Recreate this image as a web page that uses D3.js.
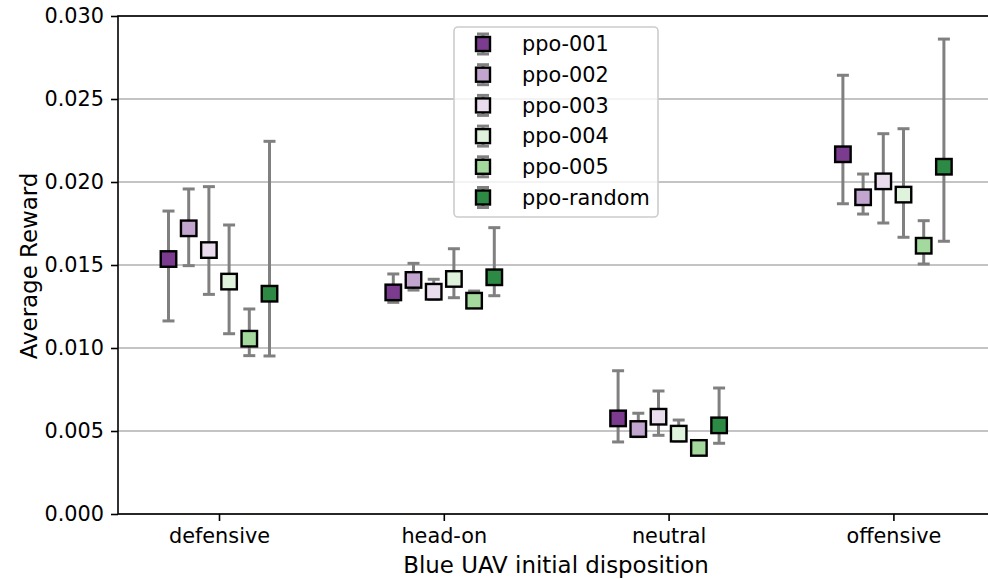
<!DOCTYPE html>
<html>
<head>
<meta charset="utf-8">
<script src="https://cdn.jsdelivr.net/npm/d3@7"></script>
<style>
  html, body { margin: 0; padding: 0; background: #fff; }
  svg { display: block; }
  text { font-family: "DejaVu Sans", sans-serif; fill: #000; }
</style>
</head>
<body>
<svg id="chart" width="988" height="579"></svg>
<script>
// Categories (x axis) and series (legend)
const dispositions = ["defensive", "head-on", "neutral", "offensive"];
const policies = ["ppo-001", "ppo-002", "ppo-003", "ppo-004", "ppo-005", "ppo-random"];
const policyColors = ["#7b3b8f", "#c2a5cf", "#e9dcec", "#dff2dc", "#a3d99d", "#2d8a44"];

// Mean reward per policy, one value per disposition
const meanReward = {
  "ppo-001":    [0.01536, 0.01335, 0.00576, 0.02167],
  "ppo-002":    [0.01721, 0.01410, 0.00512, 0.01908],
  "ppo-003":    [0.01590, 0.01339, 0.00586, 0.02004],
  "ppo-004":    [0.01400, 0.01416, 0.00484, 0.01924],
  "ppo-005":    [0.01056, 0.01285, 0.00398, 0.01616],
  "ppo-random": [0.01327, 0.01426, 0.00534, 0.02092]
};
// Upper end of each error bar
const upperReward = {
  "ppo-001":    [0.01825, 0.01446, 0.00863, 0.02643],
  "ppo-002":    [0.01958, 0.01510, 0.00607, 0.02048],
  "ppo-003":    [0.01972, 0.01414, 0.00741, 0.02291],
  "ppo-004":    [0.01741, 0.01598, 0.00566, 0.02321],
  "ppo-005":    [0.01235, 0.01343, 0.00420, 0.01767],
  "ppo-random": [0.02245, 0.01725, 0.00759, 0.02861]
};
// Lower end of each error bar
const lowerReward = {
  "ppo-001":    [0.01163, 0.01275, 0.00434, 0.01869],
  "ppo-002":    [0.01496, 0.01349, 0.00466, 0.01807],
  "ppo-003":    [0.01323, 0.01293, 0.00474, 0.01753],
  "ppo-004":    [0.01086, 0.01303, 0.00440, 0.01667],
  "ppo-005":    [0.00954, 0.01270, 0.00380, 0.01506],
  "ppo-random": [0.00952, 0.01315, 0.00426, 0.01643]
};
const yTicks = [0.000, 0.005, 0.010, 0.015, 0.020, 0.025, 0.030];

const svg = d3.select("#chart");
const plot = { left: 118, right: 994, top: 16, bottom: 514 };
const fontSize = 20.8;
const titleSize = 22.9;

const x = d3.scalePoint().domain(dispositions).range([219, 893.4]);
const offset = d3.scalePoint().domain(policies).range([-50.5, 50.5]);
const y = d3.scaleLinear().domain([0, 0.030]).range([plot.bottom, plot.top]);
const color = d3.scaleOrdinal().domain(policies).range(policyColors);

// Horizontal grid
svg.append("g")
  .selectAll("line")
  .data(yTicks)
  .join("line")
  .attr("x1", plot.left).attr("x2", plot.right)
  .attr("y1", d => y(d)).attr("y2", d => y(d))
  .attr("stroke", "#b0b0b0").attr("stroke-width", 1.6);

// Y axis
const yAxis = svg.append("g")
  .attr("transform", `translate(${plot.left},0)`)
  .call(d3.axisLeft(y).tickValues(yTicks).tickFormat(d3.format(".3f")).tickSize(7).tickPadding(7));
yAxis.select(".domain").remove();
yAxis.selectAll(".tick line").attr("stroke", "#000").attr("stroke-width", 1.6);
yAxis.selectAll(".tick text").attr("font-size", fontSize).attr("font-family", "DejaVu Sans");

// X axis
const xAxis = svg.append("g")
  .attr("transform", `translate(0,${plot.bottom})`)
  .call(d3.axisBottom(x).tickSize(7).tickPadding(7));
xAxis.select(".domain").remove();
xAxis.selectAll(".tick line").attr("stroke", "#000").attr("stroke-width", 1.6);
xAxis.selectAll(".tick text").attr("font-size", fontSize).attr("font-family", "DejaVu Sans");

// Spines
const spines = svg.append("g").attr("stroke", "#000").attr("stroke-width", 1.6).attr("fill", "none");
spines.append("rect")
  .attr("x", plot.left).attr("y", plot.top)
  .attr("width", plot.right - plot.left).attr("height", plot.bottom - plot.top);

// Axis titles
svg.append("text")
  .attr("x", 556).attr("y", 573)
  .attr("text-anchor", "middle").attr("font-size", titleSize)
  .text("Blue UAV initial disposition");
svg.append("text")
  .attr("transform", `translate(37,${(plot.top + plot.bottom) / 2 + 1}) rotate(-90)`)
  .attr("text-anchor", "middle").attr("font-size", titleSize)
  .text("Average Reward");

// Error bars and markers, one series at a time
const markerSize = 15.5;
const cap = 6;
policies.forEach(p => {
  const g = svg.append("g").attr("class", "series");
  const rows = dispositions.map((d, i) => ({
    cx: x(d) + offset(p),
    mean: meanReward[p][i],
    hi: upperReward[p][i],
    lo: lowerReward[p][i]
  }));
  const eb = g.append("g").attr("stroke", "#808080").attr("stroke-width", 3);
  eb.selectAll("line.v").data(rows).join("line").attr("class", "v")
    .attr("x1", r => r.cx).attr("x2", r => r.cx)
    .attr("y1", r => y(r.hi)).attr("y2", r => y(r.lo));
  eb.selectAll("line.t").data(rows).join("line").attr("class", "t")
    .attr("x1", r => r.cx - cap).attr("x2", r => r.cx + cap)
    .attr("y1", r => y(r.hi)).attr("y2", r => y(r.hi));
  eb.selectAll("line.b").data(rows).join("line").attr("class", "b")
    .attr("x1", r => r.cx - cap).attr("x2", r => r.cx + cap)
    .attr("y1", r => y(r.lo)).attr("y2", r => y(r.lo));
  g.selectAll("rect").data(rows).join("rect")
    .attr("x", r => r.cx - markerSize / 2).attr("y", r => y(r.mean) - markerSize / 2)
    .attr("width", markerSize).attr("height", markerSize)
    .attr("fill", color(p)).attr("stroke", "#000").attr("stroke-width", 2.4);
});

// Legend
const legend = svg.append("g");
legend.append("rect")
  .attr("x", 454).attr("y", 27).attr("width", 204).attr("height", 190)
  .attr("rx", 4).attr("fill", "#fff").attr("fill-opacity", 0.8)
  .attr("stroke", "#cccccc").attr("stroke-width", 1.6);
const rowY = d3.scalePoint().domain(policies).range([44, 197.5]);
const items = legend.selectAll("g.item").data(policies).join("g").attr("class", "item")
  .attr("transform", p => `translate(483,${rowY(p)})`);
items.append("line").attr("x1", 0).attr("x2", 0).attr("y1", -10).attr("y2", 10)
  .attr("stroke", "#808080").attr("stroke-width", 3);
items.append("line").attr("x1", -cap).attr("x2", cap).attr("y1", -10).attr("y2", -10)
  .attr("stroke", "#808080").attr("stroke-width", 3);
items.append("line").attr("x1", -cap).attr("x2", cap).attr("y1", 10).attr("y2", 10)
  .attr("stroke", "#808080").attr("stroke-width", 3);
items.append("rect")
  .attr("x", -7).attr("y", -7).attr("width", 14).attr("height", 14)
  .attr("fill", p => color(p)).attr("stroke", "#000").attr("stroke-width", 2.4);
items.append("text")
  .attr("x", 39).attr("y", 0).attr("dy", "0.35em")
  .attr("font-size", fontSize)
  .text(p => p);
</script>
</body>
</html>
